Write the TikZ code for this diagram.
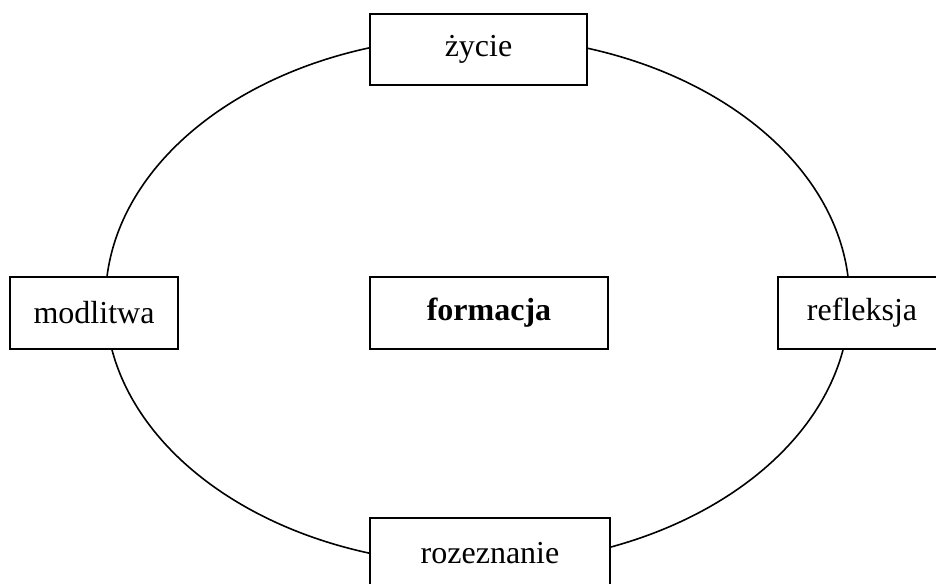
\documentclass[tikz,border=0pt]{standalone}
\usepackage{fontspec}
\setmainfont{Liberation Serif}
\begin{document}
\begin{tikzpicture}[x=1pt,y=-1pt,
  lbl/.style={draw, line width=1.7pt, fill=white, inner sep=0pt, font=\fontsize{32}{36}\selectfont},
  ring/.style={line width=1.6pt}]
\useasboundingbox (0,0) rectangle (936,583);
\clip (0,0) rectangle (936,583);
\coordinate (c) at (477.5,300.5);
\draw[ring] (c) ellipse [x radius=372, y radius=264];
\node[lbl, minimum width=217pt, minimum height=71pt] (zycie) at (478.5,49.5) {życie};
\node[lbl, minimum width=240pt, minimum height=71pt] (rozeznanie) at (490,553.5) {rozeznanie};
\node[lbl, minimum width=168pt, minimum height=72pt] (modlitwa) at (94,313) {modlitwa};
\node[lbl, minimum width=168pt, minimum height=72pt] (refleksja) at (862,313) {refleksja};
\node[lbl, minimum width=238pt, minimum height=72pt] (formacja) at (489,313) {\textbf{formacja}};
\end{tikzpicture}
\end{document}
